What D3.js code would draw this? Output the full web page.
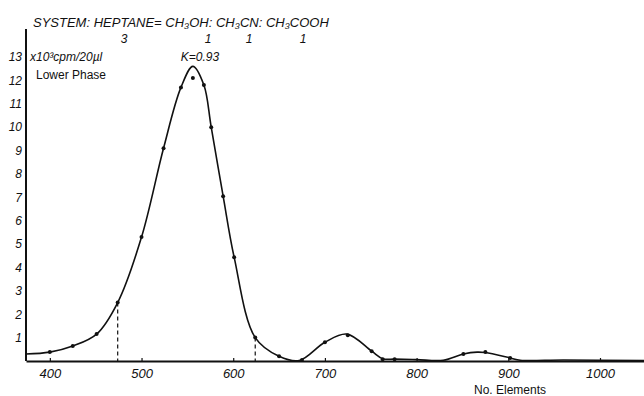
<!DOCTYPE html>
<html>
<head>
<meta charset="utf-8">
<script src="https://cdn.jsdelivr.net/npm/d3@7"></script>
<style>
  body { margin: 0; background: #fff; }
  svg { display: block; }
  text { fill: #111; font-family: "Liberation Sans", "DejaVu Sans", sans-serif; }
  .it { font-style: italic; }
</style>
</head>
<body>
<svg width="644" height="396"></svg>
<script>
// curve (No. Elements, x10^3 cpm/20ul)
var curveX = [374, 400, 425, 451, 474, 500, 524, 543, 556, 568, 576, 589, 601, 624, 650, 672, 700, 724, 751, 763, 776, 800, 829, 851, 866, 875, 902, 913, 960, 1048];
var curveY = [0.3, 0.38, 0.64, 1.15, 2.5, 5.3, 9.1, 11.7, 12.6, 11.8, 10.0, 7.05, 4.44, 1.0, 0.2, 0.02, 0.8, 1.15, 0.42, 0.1, 0.08, 0.06, 0.03, 0.3, 0.38, 0.36, 0.13, 0.03, 0.04, 0.02];

// measured points (dots on the curve)
var dotX = [400, 425, 451, 474, 500, 524, 543, 556, 568, 576, 589, 601, 624, 650, 675, 700, 725, 751, 763, 776, 851, 875, 902];
var dotY = [0.38, 0.64, 1.15, 2.5, 5.3, 9.1, 11.7, 12.1, 11.8, 10.0, 7.05, 4.44, 1.0, 0.2, 0.04, 0.8, 1.1, 0.42, 0.08, 0.08, 0.3, 0.38, 0.13];

// cut lines
var cutX = [474, 624];
var cutY = [2.5, 1.0];

var xTicks = [400, 500, 600, 700, 800, 900, 1000];
var yTicks = [1, 2, 3, 4, 5, 6, 7, 8, 9, 10, 11, 12, 13];

var titleText = 'SYSTEM: HEPTANE= CH\u2083OH: CH\u2083CN: CH\u2083COOH';
var ratioLabels = ['3', '1', '1', '1'];
var ratioX = [124, 208, 249, 303];

var svg = d3.select('svg');

var xScale = d3.scaleLinear().domain([374, 1048]).range([26, 644]);
var yScale = d3.scaleLinear().domain([0, 13]).range([361, 57]);

var curve = curveX.map(function(d, i) { return {x: d, y: curveY[i]}; });
var dots = dotX.map(function(d, i) { return {x: d, y: dotY[i]}; });
var cuts = cutX.map(function(d, i) { return {x: d, y: cutY[i]}; });

// axes
var xAxis = d3.axisBottom(xScale)
    .tickValues(xTicks)
    .tickFormat(d3.format('d'))
    .tickSizeInner(-3)
    .tickSizeOuter(0)
    .tickPadding(8);
var gx = svg.append('g')
    .attr('class', 'x axis')
    .attr('transform', 'translate(0,' + yScale(0) + ')')
    .call(xAxis);
gx.select('.domain').attr('stroke', '#111').attr('stroke-width', 2);
gx.selectAll('.tick line').attr('stroke', '#111').attr('stroke-width', 1.2);
gx.selectAll('.tick text')
    .attr('class', 'it')
    .style('font-size', '13px')
    .attr('fill', '#111');

var yAxis = d3.axisLeft(yScale).tickValues(yTicks).tickSize(0).tickPadding(4);
var gy = svg.append('g')
    .attr('class', 'y axis')
    .attr('transform', 'translate(' + xScale(374) + ',0)')
    .call(yAxis);
gy.select('.domain').remove();
gy.selectAll('.tick text')
    .attr('class', 'it')
    .style('font-size', '12px')
    .attr('fill', '#111');

svg.append('line')
    .attr('x1', xScale(374)).attr('x2', xScale(374))
    .attr('y1', yScale(0)).attr('y2', yScale(14.2))
    .attr('stroke', '#111')
    .attr('stroke-width', 2);

// dashed cut lines
svg.selectAll('.cut')
    .data(cuts)
    .enter()
    .append('line')
    .attr('class', 'cut')
    .attr('x1', function(d) { return xScale(d.x); })
    .attr('x2', function(d) { return xScale(d.x); })
    .attr('y1', function(d) { return yScale(d.y); })
    .attr('y2', yScale(0))
    .attr('stroke', '#111')
    .attr('stroke-width', 1.2)
    .attr('stroke-dasharray', '4,3');

// curve
var line = d3.line()
    .x(function(d) { return xScale(d.x); })
    .y(function(d) { return yScale(d.y); })
    .curve(d3.curveCatmullRom.alpha(0.5));

svg.append('path')
    .datum(curve)
    .attr('d', line)
    .attr('fill', 'none')
    .attr('stroke', '#111')
    .attr('stroke-width', 1.6);

svg.selectAll('.dot')
    .data(dots)
    .enter()
    .append('circle')
    .attr('class', 'dot')
    .attr('cx', function(d) { return xScale(d.x); })
    .attr('cy', function(d) { return yScale(d.y); })
    .attr('r', 2)
    .attr('fill', '#111');

// title with solvent ratios
svg.append('text')
    .attr('class', 'it')
    .attr('x', 33)
    .attr('y', 27)
    .style('font-size', '13px')
    .text(titleText);

svg.selectAll('.ratio')
    .data(ratioLabels)
    .enter()
    .append('text')
    .attr('class', 'ratio it')
    .attr('x', function(d, i) { return ratioX[i]; })
    .attr('y', 43)
    .attr('text-anchor', 'middle')
    .style('font-size', '12px')
    .text(function(d) { return d; });

svg.append('text')
    .attr('class', 'it')
    .attr('x', 30)
    .attr('y', 61)
    .style('font-size', '12px')
    .text('x10\u00b3cpm/20\u00b5l');

svg.append('text')
    .attr('x', 36)
    .attr('y', 79)
    .style('font-size', '12px')
    .text('Lower Phase');

svg.append('text')
    .attr('class', 'it')
    .attr('x', 200)
    .attr('y', 61)
    .attr('text-anchor', 'middle')
    .style('font-size', '12px')
    .text('K=0.93');

svg.append('text')
    .attr('x', 510)
    .attr('y', 394)
    .attr('text-anchor', 'middle')
    .style('font-size', '12px')
    .text('No.  Elements');
</script>
</body>
</html>
